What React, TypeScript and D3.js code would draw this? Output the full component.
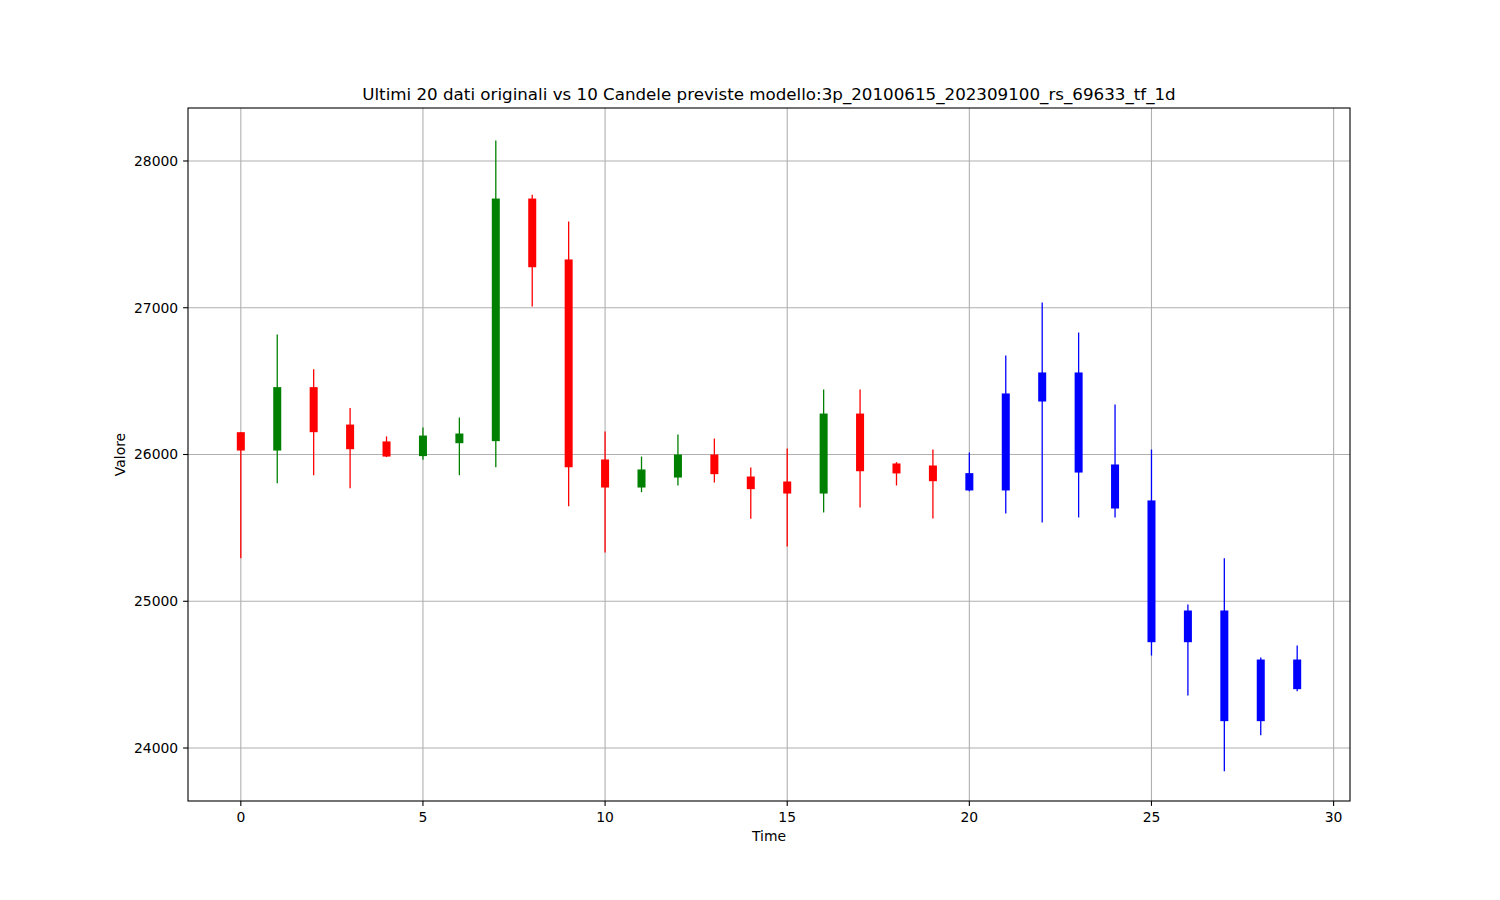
import React from "react";
import * as d3 from "d3";

const title = "Ultimi 20 dati originali vs 10 Candele previste modello:3p_20100615_202309100_rs_69633_tf_1d";
const xLabel = "Time";
const yLabel = "Valore";

// Historical candles (0..19)
const histOpen = [26152, 26027, 26459, 26204, 26089, 25989, 26077, 26091, 27744, 27329, 25966, 25775, 25843, 26000, 25850, 25816, 25734, 26279, 25939, 25925];
const histClose = [26027, 26459, 26152, 26036, 25986, 26129, 26143, 27744, 27276, 25913, 25775, 25898, 26000, 25866, 25764, 25734, 26279, 25886, 25871, 25818];
const histHigh = [26152, 26818, 26581, 26316, 26123, 26184, 26252, 28140, 27770, 27588, 26157, 25986, 26136, 26109, 25911, 26041, 26443, 26443, 25948, 26034];
const histLow = [25293, 25804, 25859, 25770, 25982, 25964, 25859, 25913, 27008, 25648, 25332, 25743, 25789, 25809, 25562, 25373, 25605, 25639, 25789, 25564];

// Predicted candles (20..29)
const predOpen = [25873, 25755, 26361, 26559, 25932, 25687, 24721, 24937, 24183, 24603];
const predClose = [25755, 26416, 26559, 25877, 25632, 24721, 24937, 24183, 24603, 24401];
const predHigh = [26014, 26675, 27036, 26831, 26341, 26034, 24978, 25293, 24617, 24698];
const predLow = [25750, 25598, 25537, 25571, 25571, 24630, 24358, 23842, 24087, 24387];

const xTicks = [0, 5, 10, 15, 20, 25, 30];
const yTicks = [24000, 25000, 26000, 27000, 28000];

type Candle = { t: number; o: number; c: number; h: number; l: number; color: string };

const candles: Candle[] = [
  ...histOpen.map((o, i) => ({
    t: i, o, c: histClose[i], h: histHigh[i], l: histLow[i],
    color: histClose[i] >= o ? "#008000" : "#ff0000",
  })),
  ...predOpen.map((o, i) => ({
    t: 20 + i, o, c: predClose[i], h: predHigh[i], l: predLow[i], color: "#0000ff",
  })),
];

export default function App() {
  const W = 1500, H = 900;
  const left = 188, right = 1350, top = 108, bottom = 801;
  const x = d3.scaleLinear().domain([-1.45, 30.45]).range([left, right]);
  const y = d3.scaleLinear().domain([23639, 28361]).range([bottom, top]);
  const bw = x(0.22) - x(0);
  const font = "DejaVu Sans, sans-serif";

  return (
    <svg width={W} height={H} style={{ position: "absolute", left: 0, top: 0, background: "#fff" }} fontFamily={font}>
      <rect x={0} y={0} width={W} height={H} fill="#fff" />
      <defs>
        <clipPath id="plot">
          <rect x={left} y={top} width={right - left} height={bottom - top} />
        </clipPath>
      </defs>
      <g>
        {xTicks.map((t) => (
          <line key={"gx" + t} x1={x(t)} x2={x(t)} y1={top} y2={bottom} stroke="#b0b0b0" strokeWidth={1.1} />
        ))}
        {yTicks.map((t) => (
          <line key={"gy" + t} x1={left} x2={right} y1={y(t)} y2={y(t)} stroke="#b0b0b0" strokeWidth={1.1} />
        ))}
      </g>
      <g clipPath="url(#plot)">
        {candles.map((d) => (
          <g key={d.t}>
            <line x1={x(d.t)} x2={x(d.t)} y1={y(d.h)} y2={y(d.l)} stroke={d.color} strokeWidth={1.3} />
            <rect
              x={x(d.t) - bw / 2}
              y={y(Math.max(d.o, d.c))}
              width={bw}
              height={Math.max(1, y(Math.min(d.o, d.c)) - y(Math.max(d.o, d.c)))}
              fill={d.color}
            />
          </g>
        ))}
      </g>
      <rect x={left} y={top} width={right - left} height={bottom - top} fill="none" stroke="#000" strokeWidth={1.1} />
      {xTicks.map((t) => (
        <g key={"xt" + t}>
          <line x1={x(t)} x2={x(t)} y1={bottom} y2={bottom + 4.9} stroke="#000" strokeWidth={1.1} />
          <text x={x(t)} y={822} fontSize={13.9} textAnchor="middle" fill="#000">{t}</text>
        </g>
      ))}
      {yTicks.map((t) => (
        <g key={"yt" + t}>
          <line x1={left - 4.9} x2={left} y1={y(t)} y2={y(t)} stroke="#000" strokeWidth={1.1} />
          <text x={left - 9.8} y={y(t)} dy="0.35em" fontSize={13.9} textAnchor="end" fill="#000">{t}</text>
        </g>
      ))}
      <text x={(left + right) / 2} y={100} fontSize={16.7} textAnchor="middle" fill="#000">{title}</text>
      <text x={(left + right) / 2} y={841} fontSize={13.9} textAnchor="middle" fill="#000">{xLabel}</text>
      <text transform={`translate(125, ${(top + bottom) / 2}) rotate(-90)`} fontSize={13.9} textAnchor="middle" fill="#000">{yLabel}</text>
    </svg>
  );
}
